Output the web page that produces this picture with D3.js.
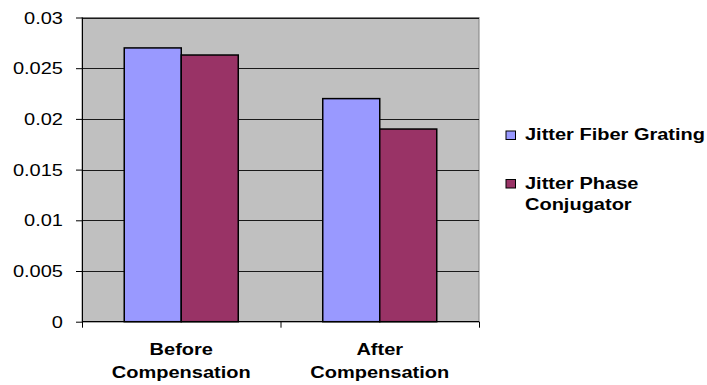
<!DOCTYPE html>
<html><head><meta charset="utf-8">
<script src="https://cdn.jsdelivr.net/npm/d3@7"></script>
<style>
html,body{margin:0;padding:0;background:#fff;}
svg{display:block;font-family:"Liberation Sans",Arial,sans-serif;}
</style></head>
<body><svg id="c" width="707" height="385"></svg>
<script>
const categories = [["Before","Compensation"],["After","Compensation"]];
const seriesNames = [["Jitter Fiber Grating"],["Jitter Phase","Conjugator"]];
const fiberGrating = [0.027, 0.022];
const phaseConjugator = [0.0263, 0.019];
const yTicks = [0, 0.005, 0.01, 0.015, 0.02, 0.025, 0.03];
const yTickLabels = ["0","0.005","0.01","0.015","0.02","0.025","0.03"];
const colors = ["#9999ff","#993366"];

const svg = d3.select("#c");
const L = 82, R = 479, T = 17.5, B = 321.7;
const SX = 1.25;

const x0 = d3.scaleBand().domain([0,1]).range([L,R]).paddingInner(0).paddingOuter(0);
const x1 = d3.scaleBand().domain([0,1]).range([0, x0.bandwidth()]).paddingInner(0).paddingOuter(0.741);
const y = d3.scaleLinear().domain([0,0.03]).range([B,T]);

svg.append("rect").attr("x",L).attr("y",T).attr("width",R-L).attr("height",B-T)
  .attr("fill","#c0c0c0").attr("stroke","#808080").attr("stroke-width",1);

// gridlines
svg.append("g").selectAll("line").data(yTicks.filter(d=>d>0)).join("line")
  .attr("x1",L).attr("x2",R).attr("y1",d=>Math.round(y(d))+0.5).attr("y2",d=>Math.round(y(d))+0.5)
  .attr("stroke","#1a1a1a").attr("stroke-width",1);

// bars
const data = [fiberGrating, phaseConjugator];
const g = svg.append("g");
[0,1].forEach(c=>{
  [0,1].forEach(s=>{
    g.append("rect")
      .attr("x", x0(c)+x1(s))
      .attr("y", y(data[s][c]))
      .attr("width", x1.bandwidth())
      .attr("height", y(0)-y(data[s][c]))
      .attr("fill", colors[s]).attr("stroke","#000").attr("stroke-width",1.5);
  });
});

// y axis
const ya = d3.axisLeft(y).tickValues(yTicks).tickSize(6).tickFormat((d,i)=>yTickLabels[i]).tickPadding(13);
const yg = svg.append("g").attr("transform",`translate(${L},0)`).call(ya);
yg.select(".domain").remove();
yg.selectAll(".tick line").attr("stroke","#000");
svg.append("line").attr("x1",L+0.5).attr("x2",L+0.5).attr("y1",T).attr("y2",B).attr("stroke","#000");
yg.selectAll(".tick text").attr("font-size",16).attr("fill","#000")
  .attr("font-family","'Liberation Sans',Arial,sans-serif")
  .each(function(){
    const t = d3.select(this);
    const xx = +t.attr("x");
    t.attr("x",null).attr("transform",`translate(${xx},0) scale(${SX},1)`).attr("dy","0.35em");
  });

// x axis
svg.append("line").attr("x1",L).attr("x2",R).attr("y1",B).attr("y2",B).attr("stroke","#000").attr("stroke-width",1.2);
svg.append("g").selectAll("line").data([L, x0(1), R]).join("line")
  .attr("x1",d=>d+0.5).attr("x2",d=>d+0.5).attr("y1",B).attr("y2",B+6).attr("stroke","#000");

categories.forEach((lines,i)=>{
  const cx = x0(i)+x0.bandwidth()/2;
  lines.forEach((ln,j)=>{
    svg.append("text").attr("transform",`translate(${cx},${355+j*23}) scale(${SX},1)`)
      .attr("text-anchor","middle").attr("font-size",16).attr("font-weight","bold").text(ln);
  });
});

// legend
const legY = [140, 188.5];
seriesNames.forEach((lines,i)=>{
  svg.append("rect").attr("x",506).attr("y",legY[i]-9).attr("width",9.5).attr("height",8.5)
    .attr("fill",colors[i]).attr("stroke","#000").attr("stroke-width",1);
  lines.forEach((ln,j)=>{
    svg.append("text").attr("transform",`translate(525,${legY[i]+j*21}) scale(${SX},1)`)
      .attr("font-size",16).attr("font-weight","bold").text(ln);
  });
});
</script></body></html>
